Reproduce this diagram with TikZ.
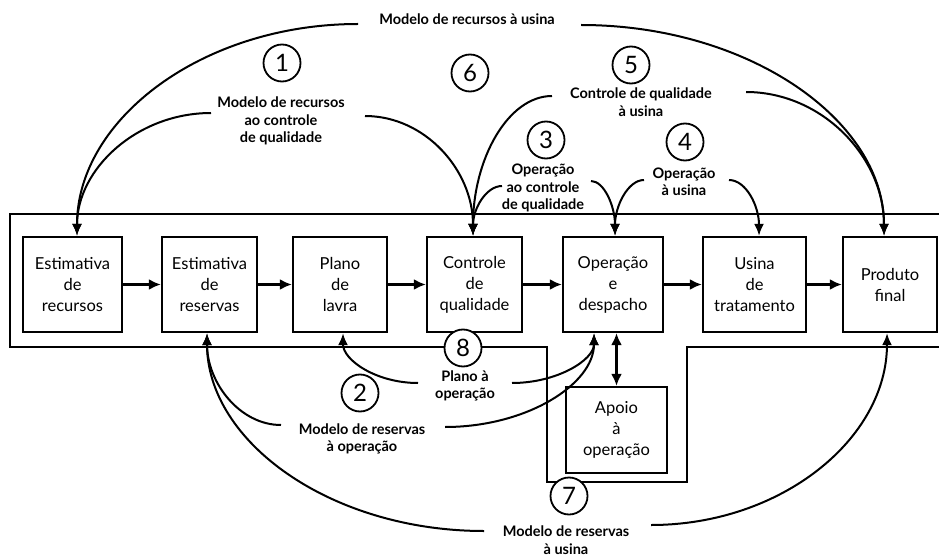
\documentclass[tikz,border=0pt]{standalone}
\usepackage{fontspec}
\setmainfont{Lato}
\usetikzlibrary{arrows.meta}
\tikzset{
  stagebox/.style={draw, line width=2.4pt, minimum height=95pt, align=center,
    font=\fontsize{16.5}{21}\selectfont, inner sep=0pt, fill=white},
  lab/.style={align=center, font=\bfseries\fontsize{14.5}{17.5}\selectfont, inner sep=1pt},
  num/.style={circle, draw, line width=1.8pt, fill=white, minimum size=37pt,
    inner sep=0pt, font=\fontsize{24}{24}\selectfont},
  flow/.style={line width=2.2pt, -{Latex[length=12pt,width=11pt]}},
  arcline/.style={line width=2pt, -{Latex[length=12pt,width=10pt]}},
  framel/.style={line width=2pt}
}
\begin{document}
\begin{tikzpicture}[x=1pt,y=-1pt]
\useasboundingbox (0,0) rectangle (939,556);
% outer frame
\draw[framel] (939,214) -- (10,214) -- (10,347) -- (547,347) -- (547,482)
  -- (687,482) -- (687,347) -- (939,347);
% stage boxes
\node[stagebox, minimum width=99pt]  (b1) at (72.5,284.5) {Estimativa\\de\\recursos};
\node[stagebox, minimum width=95pt]  (b2) at (209.5,284.5) {Estimativa\\de\\reservas};
\node[stagebox, minimum width=94pt]  (b3) at (340,284.5) {Plano\\de\\lavra};
\node[stagebox, minimum width=95pt]  (b4) at (474.5,284.5) {Controle\\de\\qualidade};
\node[stagebox, minimum width=100pt] (b5) at (613,284.5) {Operação\\e\\despacho};
\node[stagebox, minimum width=103pt] (b6) at (754.5,284.5) {Usina\\de\\tratamento};
\node[stagebox, minimum width=94pt]  (b7) at (890,284.5) {Produto\\final};
\node[stagebox, minimum width=101pt, minimum height=86pt] (ap) at (616.5,430) {Apoio\\à\\operação};
% main flow
\draw[flow] (b1) -- (b2);
\draw[flow] (b2) -- (b3);
\draw[flow] (b3) -- (b4);
\draw[flow] (b4) -- (b5);
\draw[flow] (b5) -- (b6);
\draw[flow] (b6) -- (b7);
\draw[line width=2.2pt, {Latex[length=12pt,width=11pt]}-{Latex[length=12pt,width=11pt]}]
  (ap.north) -- (ap.north |- b5.south);
% labels
\node[lab] (l6) at (467,19) {Modelo de recursos à usina};
\node[lab] (l1) at (281,121) {Modelo de recursos\\ao controle\\de qualidade};
\node[lab] (l5) at (641,102) {Controle de qualidade\\à usina};
\node[lab] (l3) at (543,188) {Operação\\ao controle\\de qualidade};
\node[lab] (l4) at (684,182) {Operação\\à usina};
\node[lab] (l8) at (465,386) {Plano à\\operação};
\node[lab] (l2) at (362,439) {Modelo de reservas\\à operação};
\node[lab] (l7) at (566,540) {Modelo de reservas\\à usina};
% curve end coordinates
\coordinate (s6a) at (358,24);  \coordinate (s6b) at (581,25);
\coordinate (s1a) at (211,113); \coordinate (s1b) at (365,116);
\coordinate (s5a) at (552,96);  \coordinate (s5b) at (746,92);
\coordinate (s3a) at (502,186); \coordinate (s3b) at (591,181);
\coordinate (s4a) at (644,180); \coordinate (s4b) at (729,180);
\coordinate (s8a) at (418,383); \coordinate (s8b) at (512,383);
\coordinate (s2a) at (281,425); \coordinate (s2b) at (445,427);
\coordinate (s7a) at (484,531); \coordinate (s7b) at (651,525);
% upper curves
\draw[arcline] (s6a) .. controls (203,24) and (77,119) .. ([xshift=4.5pt]b1.north);
\draw[arcline] (s6b) .. controls (748,25) and (884,120) .. ([xshift=-6pt]b7.north);
\draw[arcline] (s1a) .. controls (137,113) and (77,169) .. ([xshift=4.5pt]b1.north);
\draw[arcline] (s1b) .. controls (425,116) and (473,170) .. ([xshift=-1.5pt]b4.north);
\draw[arcline] (s5a) .. controls (508,96) and (473,159) .. ([xshift=-1.5pt]b4.north);
\draw[arcline] (s5b) .. controls (822,92) and (884,157) .. ([xshift=-6pt]b7.north);
\draw[arcline] (s3a) .. controls (486,186) and (473,209) .. ([xshift=-1.5pt]b4.north);
\draw[arcline] (s3b) .. controls (604,181) and (615,206) .. ([xshift=2pt]b5.north);
\draw[arcline] (s4a) .. controls (628,180) and (615,206) .. ([xshift=2pt]b5.north);
\draw[arcline] (s4b) .. controls (746,180) and (759,206) .. ([xshift=4.5pt]b6.north);
% lower curves
\draw[arcline] (s8a) .. controls (376,383) and (343,360) .. ([xshift=3pt]b3.south);
\draw[arcline] (s8b) .. controls (557,383) and (594,360) .. ([xshift=-19pt]b5.south);
\draw[arcline] (s2a) .. controls (240,425) and (207,383) .. ([xshift=-2.5pt]b2.south);
\draw[arcline] (s2b) .. controls (527,427) and (594,384) .. ([xshift=-19pt]b5.south);
\draw[arcline] (s7a) .. controls (331,531) and (207,442) .. ([xshift=-2.5pt]b2.south);
\draw[arcline] (s7b) .. controls (781,525) and (887,439) .. ([xshift=-3pt]b7.south);
% number circles
\node[num] (n1) at (282,63) {1};
\node[num] (n6) at (470,73) {6};
\node[num] (n5) at (631,65) {5};
\node[num] (n3) at (546,140) {3};
\node[num] (n4) at (685,142) {4};
\node[num] (n8) at (463,348) {8};
\node[num] (n2) at (360,393) {2};
\node[num] (n7) at (569,496) {7};
\end{tikzpicture}
\end{document}
